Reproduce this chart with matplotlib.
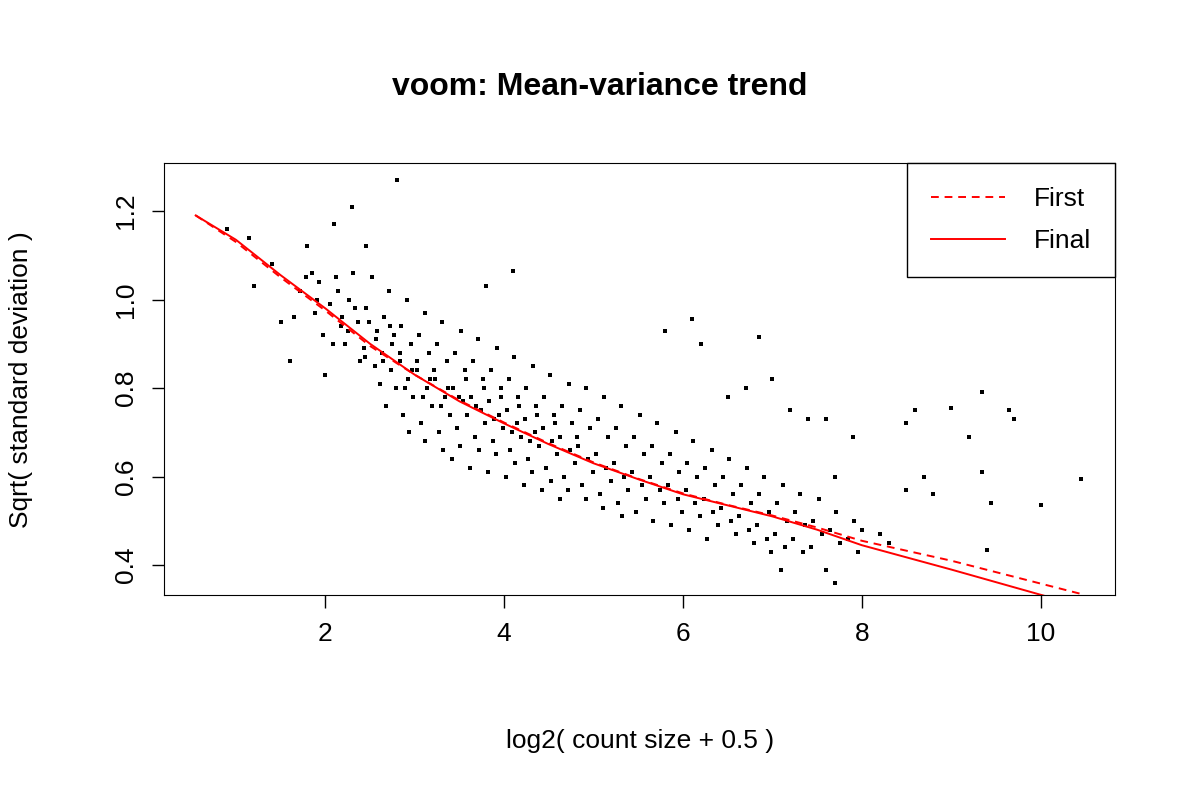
import matplotlib
matplotlib.use("Agg")
import matplotlib.pyplot as plt
from matplotlib.lines import Line2D

plt.rcParams["font.family"] = "Liberation Sans"

# Trend lines
first_x = [0.55, 1.0, 1.5, 2.0, 2.5, 3.0, 3.5, 4.0, 4.5, 5.0, 5.5, 6.0, 6.5, 7.0, 7.5, 8.0, 9.0, 10.45]
first_y = [1.19, 1.13, 1.05, 0.975, 0.895, 0.83, 0.772, 0.722, 0.675, 0.632, 0.595, 0.562, 0.536, 0.512, 0.485, 0.455, 0.41, 0.335]
final_x = [0.55, 1.0, 1.5, 2.0, 2.5, 3.0, 3.5, 4.0, 4.5, 5.0, 5.5, 6.0, 6.5, 7.0, 7.5, 8.0, 9.0, 10.0, 10.5]
final_y = [1.19, 1.135, 1.055, 0.98, 0.90, 0.83, 0.77, 0.72, 0.673, 0.63, 0.594, 0.56, 0.535, 0.51, 0.48, 0.445, 0.39, 0.333, 0.305]

# Gene points (approximate reading of the cloud + visible outliers)
points = [
 (2.80,1.27),(2.30,1.21),(2.45,1.12),(1.15,1.14),(1.20,1.03),(1.50,0.95),(1.60,0.86),(2.00,0.83),
 (4.10,1.065),(3.80,1.03),(5.80,0.93),(6.10,0.955),(6.20,0.90),(6.85,0.915),(7.00,0.82),(7.20,0.75),
 (7.40,0.73),(7.60,0.73),(7.90,0.69),(8.50,0.72),(8.60,0.75),(9.00,0.755),(9.20,0.69),(9.35,0.79),
 (9.65,0.75),(9.70,0.73),(9.35,0.61),(9.45,0.54),(10.45,0.595),(10.00,0.535),(9.40,0.435),(8.70,0.60),
 (8.80,0.56),(8.50,0.57),(8.20,0.47),(7.70,0.36),(7.60,0.39),(7.10,0.39),(6.70,0.80),(6.50,0.78),
 (7.70,0.60),(8.00,0.48),(8.30,0.45),(0.90,1.16),(1.80,1.12),(1.85,1.06),(2.10,1.17),(1.40,1.08),
 (1.72,1.02),(1.65,0.96),(1.78,1.05),(1.93,1.04),(1.88,0.97),(1.97,0.92),(1.91,1.00),
 (2.12,1.05),(2.05,0.99),(2.17,0.94),(2.09,0.90),(2.14,1.02),(2.19,0.96),
 (2.31,1.06),(2.27,1.00),(2.36,0.95),(2.22,0.90),(2.39,0.86),(2.33,0.98),(2.25,0.93),
 (2.52,1.05),(2.46,0.98),(2.58,0.93),(2.43,0.89),(2.55,0.85),(2.61,0.81),(2.49,0.95),(2.57,0.91),(2.44,0.87),
 (2.71,1.02),(2.66,0.96),(2.77,0.92),(2.63,0.88),(2.74,0.84),(2.79,0.80),(2.68,0.76),(2.75,0.90),(2.64,0.86),(2.72,0.94),
 (2.91,1.00),(2.85,0.94),(2.96,0.90),(2.83,0.86),(2.93,0.82),(2.98,0.78),(2.87,0.74),(2.94,0.70),(2.84,0.88),(2.97,0.84),(2.89,0.80),
 (3.12,0.97),(3.05,0.92),(3.16,0.88),(3.03,0.84),(3.14,0.80),(3.19,0.76),(3.07,0.72),(3.11,0.68),(3.02,0.86),(3.17,0.82),(3.09,0.78),
 (3.31,0.95),(3.25,0.90),(3.36,0.86),(3.23,0.82),(3.34,0.78),(3.39,0.74),(3.27,0.70),(3.32,0.66),(3.22,0.84),(3.37,0.80),(3.29,0.76),
 (3.52,0.93),(3.45,0.88),(3.56,0.84),(3.43,0.80),(3.54,0.77),(3.59,0.74),(3.47,0.71),(3.51,0.67),(3.42,0.64),(3.57,0.82),(3.49,0.78),
 (3.71,0.91),(3.65,0.86),(3.76,0.82),(3.63,0.78),(3.74,0.75),(3.79,0.72),(3.67,0.69),(3.72,0.66),(3.62,0.62),(3.77,0.80),(3.69,0.76),
 (3.92,0.89),(3.85,0.84),(3.96,0.80),(3.83,0.77),(3.94,0.74),(3.99,0.71),(3.87,0.68),(3.91,0.65),(3.82,0.61),(3.97,0.78),(3.89,0.73),
 (4.11,0.87),(4.05,0.82),(4.16,0.78),(4.03,0.75),(4.14,0.72),(4.19,0.69),(4.07,0.66),(4.12,0.63),(4.02,0.60),(4.17,0.76),(4.09,0.70),
 (4.32,0.85),(4.25,0.80),(4.36,0.76),(4.23,0.73),(4.34,0.70),(4.39,0.67),(4.27,0.64),(4.31,0.61),(4.22,0.58),(4.37,0.74),(4.29,0.68),
 (4.51,0.83),(4.45,0.78),(4.56,0.74),(4.43,0.71),(4.54,0.68),(4.59,0.65),(4.47,0.62),(4.52,0.59),(4.42,0.57),(4.57,0.72),
 (4.72,0.81),(4.65,0.76),(4.76,0.72),(4.63,0.69),(4.74,0.66),(4.79,0.63),(4.67,0.60),(4.71,0.57),(4.62,0.55),
 (4.91,0.80),(4.85,0.75),(4.96,0.71),(4.83,0.67),(4.94,0.64),(4.99,0.61),(4.87,0.58),(4.92,0.55),(4.82,0.69),
 (5.12,0.78),(5.05,0.73),(5.16,0.69),(5.03,0.65),(5.14,0.62),(5.19,0.59),(5.07,0.56),(5.11,0.53),
 (5.31,0.76),(5.25,0.71),(5.36,0.67),(5.23,0.63),(5.34,0.60),(5.39,0.57),(5.27,0.54),(5.32,0.51),
 (5.52,0.74),(5.45,0.69),(5.56,0.65),(5.43,0.61),(5.54,0.58),(5.59,0.55),(5.47,0.52),
 (5.71,0.72),(5.65,0.67),(5.76,0.63),(5.63,0.60),(5.74,0.57),(5.79,0.54),(5.67,0.50),
 (5.92,0.70),(5.85,0.65),(5.96,0.61),(5.83,0.58),(5.94,0.55),(5.99,0.52),(5.87,0.49),
 (6.11,0.68),(6.05,0.63),(6.16,0.60),(6.03,0.57),(6.14,0.54),(6.19,0.51),(6.07,0.48),
 (6.32,0.66),(6.25,0.62),(6.36,0.58),(6.23,0.55),(6.34,0.52),(6.39,0.49),(6.27,0.46),
 (6.51,0.64),(6.45,0.60),(6.56,0.56),(6.43,0.53),(6.54,0.50),(6.59,0.47),
 (6.72,0.62),(6.65,0.58),(6.76,0.54),(6.63,0.51),(6.74,0.48),(6.79,0.45),
 (6.91,0.60),(6.85,0.56),(6.96,0.52),(6.83,0.49),(6.94,0.46),(6.99,0.43),
 (7.12,0.58),(7.05,0.54),(7.16,0.50),(7.03,0.47),(7.14,0.44),
 (7.31,0.56),(7.25,0.52),(7.36,0.49),(7.23,0.46),(7.34,0.43),
 (7.52,0.55),(7.45,0.50),(7.56,0.47),(7.43,0.44),
 (7.71,0.52),(7.65,0.48),(7.76,0.45),
 (7.91,0.50),(7.85,0.46),(7.96,0.43),
]
gene_x = [p[0] for p in points]
gene_y = [p[1] for p in points]

fig = plt.figure(figsize=(12, 8), dpi=100)
ax = fig.add_axes([0.137, 0.256, 0.792, 0.54])
ax.scatter(gene_x, gene_y, s=7, marker="s", color="black", linewidths=0)
ax.plot(first_x, first_y, color="red", ls=(0, (4, 3)), lw=1.4)
ax.plot(final_x, final_y, color="red", lw=1.4)
ax.set_xlim(0.2, 10.83)
ax.set_ylim(0.332, 1.308)
ax.set_xticks([2, 4, 6, 8, 10])
ax.set_yticks([0.4, 0.6, 0.8, 1.0, 1.2])
ax.set_yticklabels(["0.4", "0.6", "0.8", "1.0", "1.2"], rotation=90, va="center")
ax.tick_params(labelsize=19, length=9, width=1, pad=10)
ax.set_xlabel("log2( count size + 0.5 )", fontsize=19, labelpad=60)
ax.set_ylabel("Sqrt( standard deviation )", fontsize=19, labelpad=58)
fig.suptitle("voom: Mean-variance trend", fontsize=23, fontweight="bold", y=0.91)
handles = [Line2D([], [], color="red", ls=(0, (4, 3)), lw=1.4),
           Line2D([], [], color="red", lw=1.4)]
leg = ax.legend(handles, ["First", "Final"], loc="upper right", fontsize=19,
                fancybox=False, edgecolor="black", framealpha=1,
                borderaxespad=0, handlelength=2.8, borderpad=0.9, labelspacing=0.7,
                handletextpad=1.1)
leg.get_frame().set_linewidth(1)
fig.savefig("out.png")
